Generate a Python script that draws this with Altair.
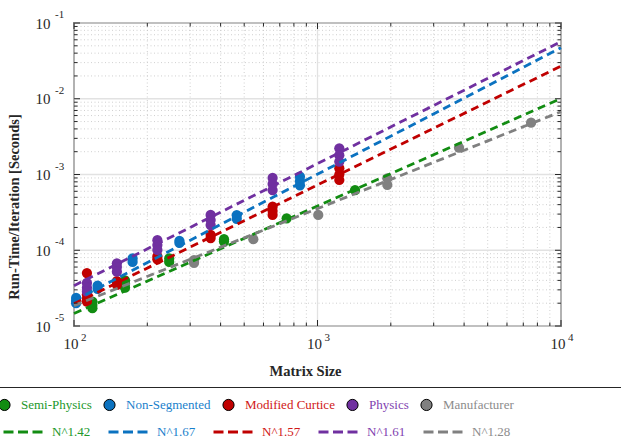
import altair as alt
import pandas as pd

# ---------------- data ----------------
series_names = ["Semi-Physics", "Non-Segmented", "Modified Curtice", "Physics", "Manufacturer"]
series_colors = ["#128c12", "#0b72c0", "#c00000", "#7030a0", "#808080"]
label_colors = ["#22982a", "#1a7fcc", "#d01818", "#7f3fb0", "#8c8c8c"]

semi_n = [119, 119, 119, 162, 162, 162, 246, 246, 413, 413, 747, 1426]
semi_t = [2.1e-5, 1.9e-5, 1.72e-5, 4.0e-5, 3.6e-5, 3.2e-5, 7.8e-5, 7.0e-5, 1.40e-4, 1.30e-4, 2.64e-4, 6.24e-4]

nonseg_n = [102, 102, 102, 125, 125, 174, 174, 271, 271, 466, 466, 847, 847, 847]
nonseg_t = [2.35e-5, 2.15e-5, 2.0e-5, 3.4e-5, 3.1e-5, 7.8e-5, 7.0e-5, 1.33e-4, 1.25e-4,
            2.9e-4, 2.6e-4, 9.35e-4, 8.2e-4, 7.2e-4]

curtice_n = [113, 113, 113, 113, 150, 150, 220, 220, 364, 364, 654, 654, 654, 1229, 1229, 1229]
curtice_t = [5.0e-5, 2.6e-5, 2.3e-5, 2.1e-5, 3.9e-5, 3.5e-5, 8.3e-5, 7.6e-5, 1.6e-4, 1.45e-4,
             3.76e-4, 3.3e-4, 2.92e-4, 1.21e-3, 1.0e-3, 8.46e-4]

physics_n = [113, 113, 113, 150, 150, 150, 220, 220, 220, 364, 364, 364, 654, 654, 654, 1229, 1229, 1229]
physics_t = [3.7e-5, 3.2e-5, 2.84e-5, 6.73e-5, 6.0e-5, 5.21e-5, 1.36e-4, 1.17e-4, 1.01e-4,
             2.92e-4, 2.5e-4, 2.15e-4, 9.0e-4, 7.5e-4, 6.24e-4, 2.22e-3, 1.8e-3, 1.48e-3]

manuf_n = [311, 311, 545, 1007, 1935, 1935, 3812, 7535]
manuf_t = [7.4e-5, 6.8e-5, 1.40e-4, 2.92e-4, 8.9e-4, 7.3e-4, 2.26e-3, 4.83e-3]

fit_labels = ["N^1.42", "N^1.67", "N^1.57", "N^1.61", "N^1.28"]
fit_n = [100, 10000]
fit_t_start = [1.466e-5, 2.16e-5, 1.96e-5, 3.41e-5, 1.86e-5]   # value at N = 100
fit_t_end = [0.0101, 0.0472, 0.027, 0.0567, 0.00675]          # value at N = 10000

x_major = [100, 1000, 10000]
x_minor = [200, 300, 400, 500, 600, 700, 800, 900, 2000, 3000, 4000, 5000, 6000, 7000, 8000, 9000]
y_major = [1e-5, 1e-4, 1e-3, 1e-2, 1e-1]
y_minor = [m * d for d in [1e-5, 1e-4, 1e-3, 1e-2] for m in [2, 3, 4, 5, 6, 7, 8, 9]]
tick_base = "10"
x_exponents = ["2", "3", "4"]
y_exponents = ["-5", "-4", "-3", "-2", "-1"]

# ---------------- tables ----------------
pts = pd.concat([
    pd.DataFrame({"N": n, "t": t, "series": s})
    for n, t, s in zip([semi_n, nonseg_n, curtice_n, physics_n, manuf_n],
                       [semi_t, nonseg_t, curtice_t, physics_t, manuf_t], series_names)
], ignore_index=True)

fit_rows = []
for lab, a, b in zip(fit_labels, fit_t_start, fit_t_end):
    fit_rows.append({"fit": lab, "N": fit_n[0], "t": a})
    fit_rows.append({"fit": lab, "N": fit_n[1], "t": b})
fits = pd.DataFrame(fit_rows)

W, H = 487, 303
FONT = "Liberation Serif"
AX = "#262626"

xscale = alt.Scale(type="log", domain=[100, 10000], nice=False)
yscale = alt.Scale(type="log", domain=[1e-5, 1e-1], nice=False)

xaxis = alt.Axis(values=x_major, labelExpr=f"'{tick_base}'", ticks=False, domain=False, grid=False,
                 labelFont=FONT, labelFontSize=15, labelColor=AX, labelPadding=10,
                 labelAlign="right", labelOffset=4,
                 labelFlush=False, labelOverlap=False,
                 title="Matrix Size", titleFont=FONT, titleFontSize=14.5, titleFontWeight="bold",
                 titleColor=AX, titleX=231, titleY=49, titleBaseline="alphabetic", titleAlign="center")
yaxis = alt.Axis(values=y_major, labelExpr=f"'{tick_base}'", ticks=False, domain=False, grid=False,
                 labelFont=FONT, labelFontSize=15, labelColor=AX, labelPadding=24,
                 labelFlush=False, labelOverlap=False, labelBaseline="middle",
                 title="Run-Time/Iteration [Seconds]", titleFont=FONT, titleFontSize=14.5,
                 titleFontWeight="bold", titleColor=AX, titleX=-60, titleY=183.5,
                 titleAngle=270, titleAlign="center", titleBaseline="middle")


def color_expr(names, cols):
    e = "'black'"
    for n, c in reversed(list(zip(names, cols))):
        e = f"datum.label == '{n}' ? '{c}' : ({e})"
    return e


fill_legend = alt.Legend(orient="none", legendX=-76, legendY=375, direction="horizontal", columns=5,
                         title=None, labelFont=FONT, labelFontSize=13,
                         labelColor=alt.ExprRef(expr=color_expr(series_names, label_colors)),
                         symbolType="circle", symbolSize=125, symbolStrokeColor="black",
                         symbolStrokeWidth=1, symbolOpacity=1, labelOffset=10, columnPadding=9, padding=0)
stroke_legend = alt.Legend(orient="none", legendX=-72, legendY=388, direction="horizontal", columns=5,
                           title=None, labelFont=FONT, labelFontSize=13,
                           labelColor=alt.ExprRef(expr=color_expr(fit_labels, label_colors)),
                           symbolType="stroke", symbolSize=1521, symbolStrokeWidth=3,
                           symbolDash=[10, 4.5], labelOffset=8, columnPadding=11, padding=0)

X_Q = lambda f: alt.X(f, scale=xscale, axis=xaxis)
Y_Q = lambda f: alt.Y(f, scale=yscale, axis=yaxis)

# grid
gx_minor = alt.Chart(pd.DataFrame({"v": x_minor})).mark_rule(
    color="#c4c4c4", strokeWidth=0.8, strokeDash=[1, 2.5]).encode(x=X_Q("v:Q"))
gy_minor = alt.Chart(pd.DataFrame({"v": y_minor})).mark_rule(
    color="#c4c4c4", strokeWidth=0.8, strokeDash=[1, 2.5]).encode(y=Y_Q("v:Q"))
gx_major = alt.Chart(pd.DataFrame({"v": x_major})).mark_rule(
    color="#e2e2e2", strokeWidth=1.3).encode(x=X_Q("v:Q"))
gy_major = alt.Chart(pd.DataFrame({"v": y_major})).mark_rule(
    color="#e2e2e2", strokeWidth=1.3).encode(y=Y_Q("v:Q"))

points = alt.Chart(pts).mark_point(filled=True, size=105, opacity=1, strokeWidth=0).encode(
    x=X_Q("N:Q"),
    y=Y_Q("t:Q"),
    fill=alt.Fill("series:N", sort=series_names,
                  scale=alt.Scale(domain=series_names, range=series_colors), legend=fill_legend),
)

lines = alt.Chart(fits).mark_line(strokeDash=[8, 5], strokeWidth=2.8).encode(
    x=X_Q("N:Q"),
    y=Y_Q("t:Q"),
    stroke=alt.Stroke("fit:N", sort=fit_labels,
                      scale=alt.Scale(domain=fit_labels, range=series_colors), legend=stroke_legend),
)


def yticks(vals, L):
    base = alt.Chart(pd.DataFrame({"v": vals})).mark_rule(color=AX, strokeWidth=1)
    yy = Y_Q("v:Q")
    return [base.encode(y=yy, x=alt.value(0), x2=alt.value(L)),
            base.encode(y=yy, x=alt.value(W - L), x2=alt.value(W))]


def xticks(vals, L):
    base = alt.Chart(pd.DataFrame({"v": vals})).mark_rule(color=AX, strokeWidth=1)
    xx = X_Q("v:Q")
    return [base.encode(x=xx, y=alt.value(H), y2=alt.value(H - L)),
            base.encode(x=xx, y=alt.value(0), y2=alt.value(L))]


ticks = yticks(y_major, 6) + yticks(y_minor, 3.5) + xticks(x_major, 6) + xticks(x_minor, 3.5)

# superscript exponents of the tick labels
x_exp = alt.Chart(pd.DataFrame({"v": x_major, "e": x_exponents})).mark_text(
    align="left", baseline="alphabetic", font=FONT, fontSize=11, color=AX, dx=7).encode(
    x=X_Q("v:Q"), y=alt.value(H + 15), text="e:N")
y_exp = alt.Chart(pd.DataFrame({"v": y_major, "e": y_exponents})).mark_text(
    align="left", baseline="alphabetic", font=FONT, fontSize=11, color=AX, dy=-5).encode(
    y=Y_Q("v:Q"), x=alt.value(-19), text="e:N")

legend_line = alt.Chart(pd.DataFrame({"a": [0]})).mark_rule(color=AX, strokeWidth=1.2).encode(
    x=alt.value(-90), x2=alt.value(W + 90), y=alt.value(364.5))

chart = alt.layer(gx_minor, gy_minor, gx_major, gy_major, points, lines, *ticks,
                  x_exp, y_exp, legend_line).properties(
    width=W, height=H,
    padding={"left": 74, "top": 23, "right": 60, "bottom": 118},
    autosize=alt.AutoSizeParams(type="none"),
    background="white",
).configure_view(stroke=AX, strokeWidth=1.5)

chart.save("out.html", embed_options={"renderer": "svg", "actions": False})
